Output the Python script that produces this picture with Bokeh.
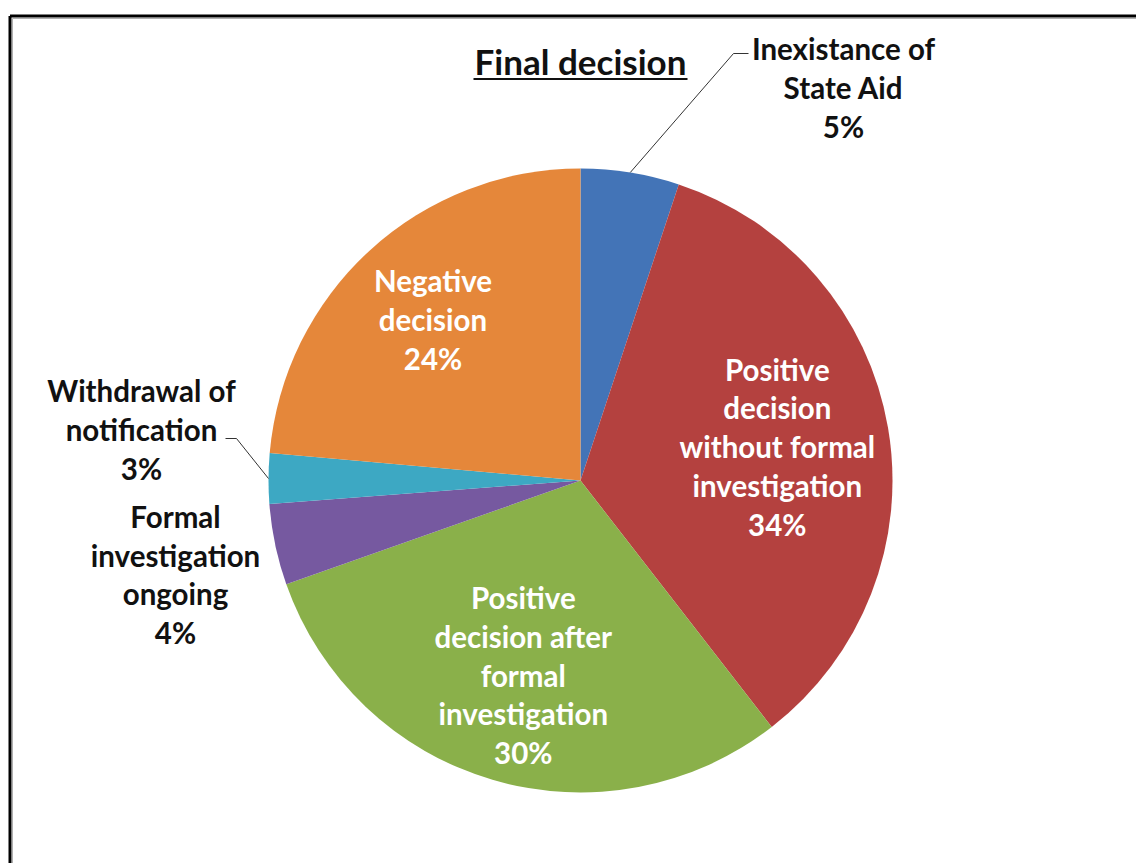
import numpy as np
from bokeh.plotting import figure
from bokeh.models import Range1d
from bokeh.core.properties import value
from bokeh.embed import file_html
from bokeh.resources import INLINE

# ---------------- data ----------------
categories = ["Inexistance of\nState Aid",
              "Positive\ndecision\nwithout formal\ninvestigation",
              "Positive\ndecision after\nformal\ninvestigation",
              "Formal\ninvestigation\nongoing",
              "Withdrawal of\nnotification",
              "Negative\ndecision"]
shares = [5.1, 34.4, 30.1, 4.2, 2.6, 23.6]
pct_labels = ["5%", "34%", "30%", "4%", "3%", "24%"]
colors = ["#4374B7", "#B4413F", "#8AB04A", "#7659A0", "#3DA8C3", "#E5873A"]

# ---------------- layout ----------------
W, H = 1136, 863
def X(px): return px
def Y(py): return H - py

cx, cy, R = X(580), Y(480), 312
FONT = value("Lato")
FS = "29.5px"
LH = 1.11

p = figure(width=W, height=H, x_range=Range1d(0, W), y_range=Range1d(0, H),
           output_backend="svg", toolbar_location=None, min_border=0,
           outline_line_color=None, background_fill_color="white")
p.axis.visible = False
p.grid.visible = False

# frame
p.line([X(9.5), X(9.5)], [Y(15.5), 0], line_color="black", line_width=3)
p.line([X(9.5), W], [Y(15.5), Y(15.5)], line_color="black", line_width=3)
p.line([X(12), X(12)], [Y(18), 0], line_color="#b0b0b0", line_width=1)
p.line([X(12), W], [Y(18), Y(18)], line_color="#b0b0b0", line_width=1)

# wedges (clockwise from 12 o'clock)
sh = np.array(shares, dtype=float)
frac = sh / sh.sum()
cum_end = np.cumsum(frac)
cum_start = cum_end - frac
start = np.pi / 2 - 2 * np.pi * cum_end
end = np.pi / 2 - 2 * np.pi * cum_start
mid = (start + end) / 2
p.wedge(x=cx, y=cy, radius=R, start_angle=start, end_angle=end,
        fill_color=colors, line_color=None)

# inner labels (white) at fraction of radius along mid angle
inner = {1: 0.64, 2: 0.65, 5: 0.70}
for i, rf in inner.items():
    lx = cx + R * rf * np.cos(mid[i])
    ly = cy + R * rf * np.sin(mid[i])
    txt = categories[i] + "\n" + pct_labels[i]
    p.text(x=[lx], y=[ly], text=[txt], text_align="center", text_baseline="middle",
           text_font=FONT, text_font_size=FS, text_font_style="bold",
           text_color="white", text_line_height=LH)

# outer labels with leader lines
outer = {0: (843, 87), 4: (141, 429), 3: (175, 574)}
for i, (px, py) in outer.items():
    txt = categories[i] + "\n" + pct_labels[i]
    p.text(x=[X(px)], y=[Y(py)], text=[txt], text_align="center", text_baseline="middle",
           text_font=FONT, text_font_size=FS, text_font_style="bold",
           text_color="#111111", text_line_height=LH)

# leaders
ax0 = cx + R * np.cos(mid[0]); ay0 = cy + R * np.sin(mid[0])
p.line([ax0, X(733), X(748)], [ay0, Y(53), Y(53)], line_color="#333333", line_width=1)
ax4 = cx + R * np.cos(mid[4]); ay4 = cy + R * np.sin(mid[4])
p.line([ax4, X(236), X(225)], [ay4, Y(438), Y(438)], line_color="#333333", line_width=1)

# title
p.text(x=[X(580)], y=[Y(60)], text=["Final decision"], text_align="center",
       text_baseline="middle", text_font=FONT, text_font_size="35px",
       text_font_style="bold", text_color="#111111")
p.line([X(473), X(687)], [Y(78.5), Y(78.5)], line_color="#111111", line_width=2)

open("out.html", "w").write(file_html(p, INLINE))
